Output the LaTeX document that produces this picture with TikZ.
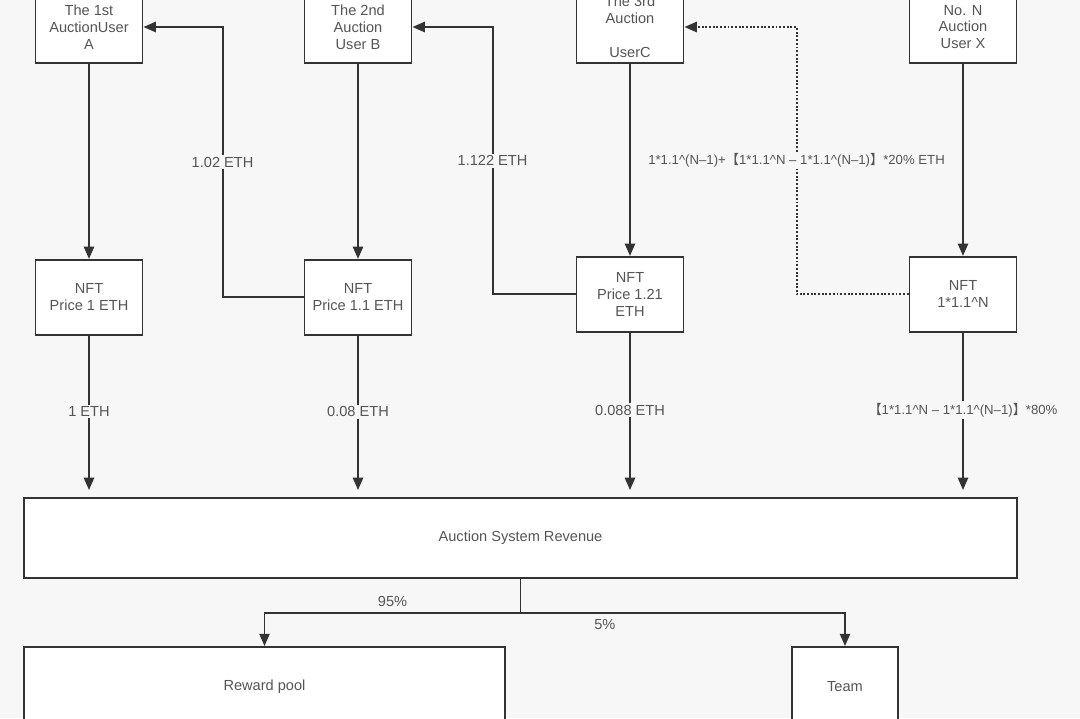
\documentclass[tikz,border=0pt]{standalone}
\usepackage{fontspec}
\setmainfont{Liberation Sans}
\newfontfamily\cjk{Noto Sans CJK SC}
\usetikzlibrary{arrows.meta,positioning,calc}

\definecolor{bgcol}{HTML}{F7F7F7}
\definecolor{linecol}{HTML}{333333}
\definecolor{textcol}{HTML}{555555}
\newcommand{\lbr}{{\cjk 【}}
\newcommand{\rbr}{{\cjk 】}}
\newcommand{\pw}{\textasciicircum}

\begin{document}
\begin{tikzpicture}[
    x=0.02cm, y=-0.02cm,
    node distance=3.9cm,
    every node/.style={font=\fontsize{8.3pt}{9.6pt}\selectfont, text=textcol},
    box/.style={draw=linecol, line width=1.1pt, fill=white, align=center, inner sep=0pt, minimum width=2.14cm},
    userbox/.style={box, minimum height=1.44cm},
    nftbox/.style={box, minimum height=1.5cm},
    widebox/.style={box, minimum height=1.6cm},
    link/.style={draw=linecol, line width=1.1pt},
    lbl/.style={fill=bgcol, inner sep=1pt},
    small/.style={font=\fontsize{7.5pt}{9pt}\selectfont},
    >={Triangle[length=7pt,width=5.8pt]}
  ]
    \useasboundingbox (0,0) rectangle (1080,718);
    \fill[bgcol] (0,0) rectangle (1080,718);
    \clip (0,0) rectangle (1080,718);

    \node[userbox] (userA) at (89,27) {The 1st\\AuctionUser\\A};
    \node[userbox] (userB) at (358,27) {The 2nd\\Auction\\User B};
    \node[userbox] (userC) at (630,27) {The 3rd\\Auction\\\mbox{}\\UserC};
    \node[userbox] (userX) at (963,27) {No. N\\Auction\\User X};

    \node[nftbox, below=of userA] (nftA) {NFT\\Price 1 ETH};
    \node[nftbox, below=of userB] (nftB) {NFT\\Price 1.1 ETH};
    \node[nftbox, below=3.84cm of userC] (nftC) {NFT\\Price 1.21\\ETH};
    \node[nftbox, below=3.84cm of userX] (nftX) {NFT\\1*1.1\pw N};

    \node[widebox, minimum width=19.86cm] (revenue) at (520.5,538) {Auction System Revenue};
    \node[widebox, minimum width=9.62cm] (reward) at (264.5,687) {Reward pool};
    \node[widebox, minimum width=2.12cm] (team) at (845,687) {Team};

    \draw[link,->] (userA) -- (nftA);
    \draw[link,->] (userB) -- (nftB);
    \draw[link,->] (userC) -- (nftC);
    \draw[link,->] (userX) -- (nftX);

    \draw[link,->] (nftB.west) -- ++(-81,0) |- node[lbl,pos=0.25] (back1) {1.02 ETH} (userA.east);
    \draw[link,->] (nftC.west) -- ++(-83,0) |- node[lbl,pos=0.25] (back2) {1.122 ETH} (userB.east);
    \draw[link,densely dotted,->] (nftX.west) -- ++(-112,0) |- node[lbl,small,pos=0.25] (backN) {1*1.1\pw(N--1)+\lbr 1*1.1\pw N -- 1*1.1\pw(N--1)\rbr*20\% ETH} (userC.east);

    \draw[link,->,shorten >=4pt] (nftA) -- node[lbl,pos=0.47] (payA) {1 ETH} (nftA |- revenue.north);
    \draw[link,->,shorten >=4pt] (nftB) -- node[lbl,pos=0.47] (payB) {0.08 ETH} (nftB |- revenue.north);
    \draw[link,->,shorten >=4pt] (nftC) -- node[lbl,pos=0.47] (payC) {0.088 ETH} (nftC |- revenue.north);
    \draw[link,->,shorten >=4pt] (nftX) -- node[lbl,small,pos=0.47] (payX) {\lbr 1*1.1\pw N -- 1*1.1\pw(N--1)\rbr *80\%} (nftX |- revenue.north);

    \draw[link] (revenue.south) -- ++(0,34) coordinate (split);
    \draw[link,->] (split) -| node[above,pos=0.25] (share1) {95\%} (reward.north);
    \draw[link,->] (split) -| node[below,pos=0.13] (share2) {5\%} (team.north);
  \end{tikzpicture}
\end{document}
